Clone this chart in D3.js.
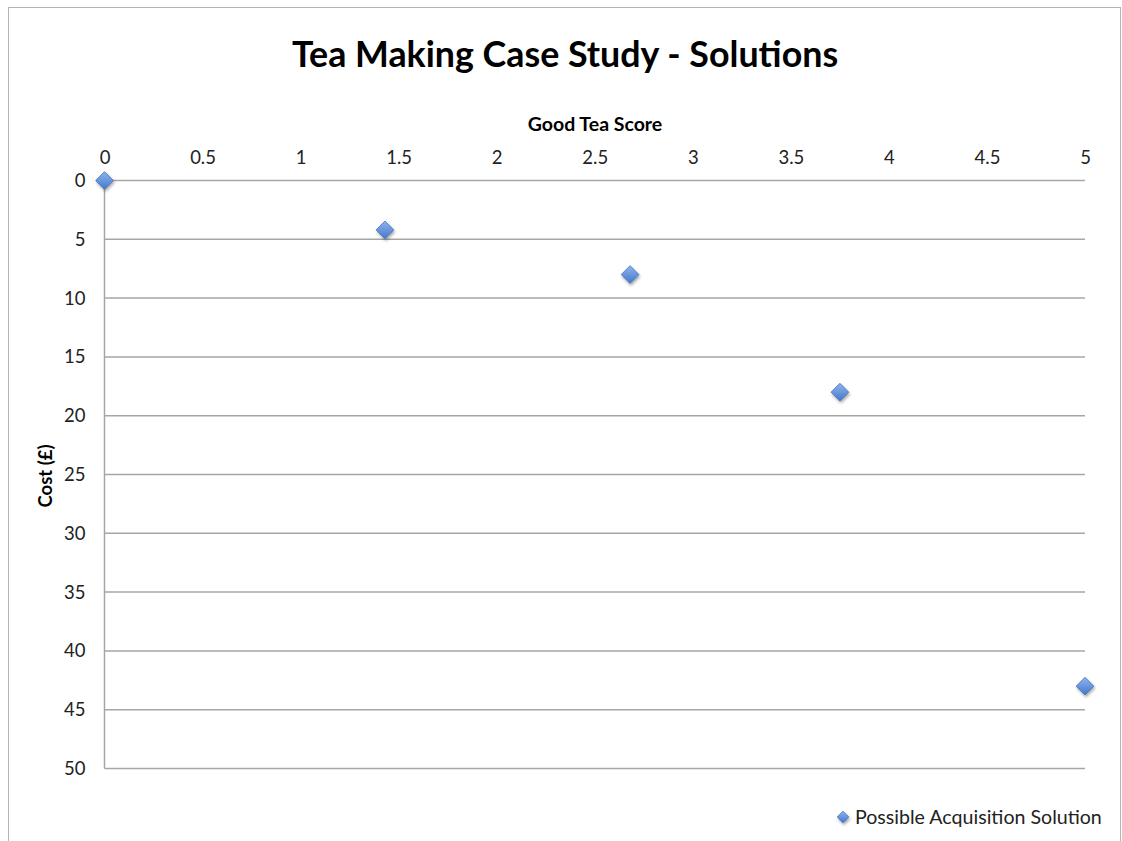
<!DOCTYPE html>
<html>
<head>
<meta charset="utf-8">
<script src="https://cdn.jsdelivr.net/npm/d3@7"></script>
<style>
  html, body { margin: 0; padding: 0; background: #fff; }
  svg { display: block; font-family: Lato, "Open Sans", sans-serif; }
</style>
</head>
<body>
<svg id="chart" width="1122" height="841"></svg>
<script>
// Solutions: quality score vs cost
const teaScore = [0, 1.43, 2.68, 3.75, 5];
const cost = [0, 4.2, 8, 18, 43];
const xTicks = [0, 0.5, 1, 1.5, 2, 2.5, 3, 3.5, 4, 4.5, 5];
const yTicks = [0, 5, 10, 15, 20, 25, 30, 35, 40, 45, 50];
const seriesName = "Possible Acquisition Solution";

const svg = d3.select("#chart");

const defs = svg.append("defs");
const grad = defs.append("linearGradient")
  .attr("id", "markerFill").attr("x1", 0).attr("y1", 0).attr("x2", 0).attr("y2", 1);
grad.append("stop").attr("offset", "0%").attr("stop-color", "#8fb4ec");
grad.append("stop").attr("offset", "100%").attr("stop-color", "#4478cc");
const shadow = defs.append("filter").attr("id", "shadow")
  .attr("x", "-50%").attr("y", "-50%").attr("width", "200%").attr("height", "200%");
shadow.append("feDropShadow").attr("dx", 1).attr("dy", 2).attr("stdDeviation", 1.5)
  .attr("flood-color", "#000").attr("flood-opacity", 0.35);

// Outer frame
svg.append("rect").attr("x", 8.5).attr("y", 7.5).attr("width", 1112).attr("height", 850)
  .attr("fill", "none").attr("stroke", "#b3b3b3").attr("stroke-width", 1);

const x = d3.scaleLinear().domain([0, 5]).range([104.5, 1085]);
const y = d3.scaleLinear().domain([0, 50]).range([180.5, 768.5]);

// Horizontal gridlines
svg.append("g").selectAll("line").data(yTicks).join("line")
  .attr("x1", x(0)).attr("x2", x(5))
  .attr("y1", d => y(d)).attr("y2", d => y(d))
  .attr("stroke", "#a6a6a6").attr("stroke-width", 1.5);

// Vertical axis line
svg.append("line").attr("x1", x(0)).attr("x2", x(0)).attr("y1", y(0)).attr("y2", y(50))
  .attr("stroke", "#a6a6a6").attr("stroke-width", 1.5);

// Top x axis labels
const xAxis = d3.axisTop(x).tickValues(xTicks).tickSize(0).tickPadding(0)
  .tickFormat(d3.format("~g"));
const gx = svg.append("g").attr("transform", "translate(0,164)").call(xAxis);
gx.select(".domain").remove();
gx.selectAll("text").attr("font-size", 18.5).attr("fill", "#222")
  .attr("font-family", "Lato, 'Open Sans', sans-serif").attr("dy", 0);

// Left y axis labels
const yAxis = d3.axisLeft(y).tickValues(yTicks).tickSize(0).tickPadding(19)
  .tickFormat(d3.format("~g"));
const gy = svg.append("g").attr("transform", `translate(${x(0)},0)`).call(yAxis);
gy.select(".domain").remove();
gy.selectAll("text").attr("font-size", 18.5).attr("fill", "#222")
  .attr("font-family", "Lato, 'Open Sans', sans-serif");

// Titles
svg.append("text").attr("x", 565).attr("y", 67).attr("text-anchor", "middle")
  .attr("font-size", 35.8).attr("font-weight", "bold").attr("fill", "#000")
  .text("Tea Making Case Study - Solutions");
svg.append("text").attr("x", 595).attr("y", 131).attr("text-anchor", "middle")
  .attr("font-size", 19.5).attr("font-weight", "bold").attr("fill", "#000")
  .text("Good Tea Score");
svg.append("text").attr("transform", "translate(52,476) rotate(-90)").attr("text-anchor", "middle")
  .attr("font-size", 18.5).attr("font-weight", "bold").attr("fill", "#000")
  .text("Cost (£)");

// Markers
const diamond = d3.symbol().type(d3.symbolDiamond2).size(200);
const pts = teaScore.map((v, i) => ({ x: v, y: cost[i] }));
svg.append("g").selectAll("path").data(pts).join("path")
  .attr("d", diamond)
  .attr("transform", d => `translate(${x(d.x)},${y(d.y)})`)
  .attr("fill", "url(#markerFill)").attr("stroke", "#3f6fbf").attr("stroke-width", 0.8)
  .attr("filter", "url(#shadow)");

// Legend
const lg = svg.append("g").attr("transform", "translate(843,817)");
lg.append("path").attr("d", d3.symbol().type(d3.symbolDiamond2).size(85))
  .attr("fill", "url(#markerFill)").attr("stroke", "#3f6fbf").attr("stroke-width", 0.8)
  .attr("filter", "url(#shadow)");
lg.append("text").attr("x", 12).attr("y", 7).attr("font-size", 19.6).attr("fill", "#222")
  .text(seriesName);
</script>
</body>
</html>
